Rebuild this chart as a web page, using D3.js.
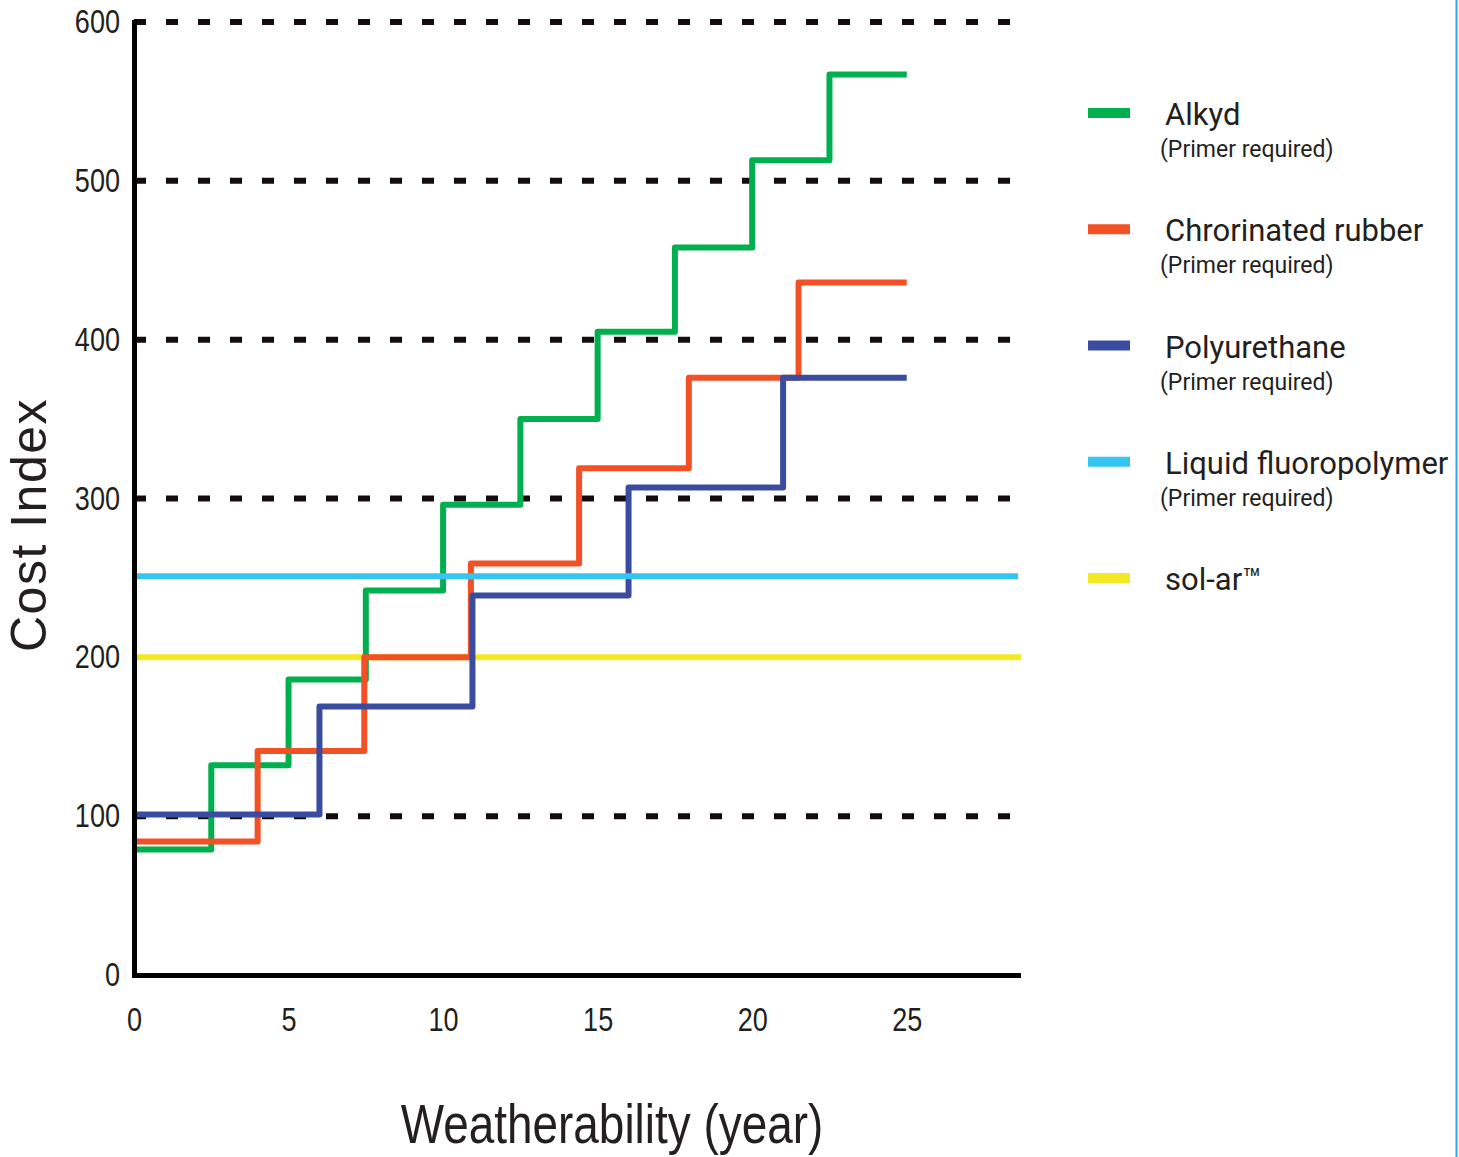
<!DOCTYPE html>
<html>
<head>
<meta charset="utf-8">
<script src="https://cdn.jsdelivr.net/npm/d3@7"></script>
<style>
  body { margin: 0; background: #fff; }
  .tick text { font-family: "Liberation Sans", Arial, sans-serif; fill: #231f20; }
  .legend text { font-family: Roboto, "Liberation Sans", sans-serif; fill: #231f20; }
</style>
</head>
<body>
<div id="chart"></div>
<script>
// step breaks (years) and cost levels
var alkydYears = [0, 2.5, 5, 7.5, 10, 12.5, 15, 17.5, 20, 22.5];
var alkydCost  = [79, 132, 186, 242, 296, 350, 405, 458, 513, 567];

var rubberYears = [0, 4, 7.45, 10.9, 14.4, 17.95, 21.5];
var rubberCost  = [84, 141, 200, 259, 319, 376, 436];

var urethaneYears = [0, 6, 10.95, 16, 21];
var urethaneCost  = [101, 169, 239, 307, 376];

var fluoroCost = 251;
var solarCost = 200;

var stepEnd = 25;
var flatEnd = 28.6;

var xTicks = [0, 5, 10, 15, 20, 25];
var yTicks = [0, 100, 200, 300, 400, 500, 600];
var gridTicks = [100, 300, 400, 500, 600];

var names = ["Alkyd", "Chrorinated rubber", "Polyurethane", "Liquid fluoropolymer", "sol-ar\u2122"];
var notes = ["(Primer required)", "(Primer required)", "(Primer required)", "(Primer required)", ""];
var colors = ["#00b04f", "#f15125", "#394ca0", "#36c5f1", "#f2e824"];

var W = 1459, H = 1157;
var narrow = 0.82; // the original type is a condensed grotesque

var svg = d3.select("#chart").append("svg")
    .attr("width", W)
    .attr("height", H);

var x = d3.scaleLinear().domain([0, flatEnd]).range([134, 1018]);
var y = d3.scaleLinear().domain([0, 600]).range([975, 22]);

// dashed grid
svg.append("g").selectAll("line")
    .data(gridTicks)
  .enter().append("line")
    .attr("x1", x(0))
    .attr("x2", x(28.35))
    .attr("y1", function(d){ return y(d); })
    .attr("y2", function(d){ return y(d); })
    .attr("stroke", "#140c0c")
    .attr("stroke-width", 6)
    .attr("stroke-dasharray", "12 20");

function steps(years, cost, end){
  var pts = years.map(function(d, i){ return [d, cost[i]]; });
  pts.push([end, cost[cost.length - 1]]);
  return pts;
}

var line = d3.line()
    .x(function(d){ return x(d[0]); })
    .y(function(d){ return y(d[1]); })
    .curve(d3.curveStepAfter);

// yellow sits under the steps, cyan over them
var series = [
  {pts: [[0, solarCost], [28.7, solarCost]], color: colors[4]},
  {pts: steps(alkydYears, alkydCost, stepEnd), color: colors[0]},
  {pts: steps(rubberYears, rubberCost, stepEnd), color: colors[1]},
  {pts: steps(urethaneYears, urethaneCost, stepEnd), color: colors[2]},
  {pts: [[0, fluoroCost], [flatEnd, fluoroCost]], color: colors[3]}
];

svg.append("g").selectAll("path")
    .data(series)
  .enter().append("path")
    .attr("d", function(d){ return line(d.pts); })
    .attr("fill", "none")
    .attr("stroke", function(d){ return d.color; })
    .attr("stroke-width", 6)
    .attr("stroke-linejoin", "round");

// axes
var xAxis = svg.append("g")
    .attr("transform", "translate(0," + y(0) + ")")
    .call(d3.axisBottom(x).tickValues(xTicks).tickSize(0).tickPadding(33));

var yAxis = svg.append("g")
    .attr("transform", "translate(" + x(0) + ",0)")
    .call(d3.axisLeft(y).tickValues(yTicks).tickSize(0).tickPadding(14));

[xAxis, yAxis].forEach(function(g){
  g.select(".domain")
      .attr("stroke", "#000")
      .attr("stroke-width", 5)
      .attr("stroke-linecap", "square");
  g.selectAll(".tick text")
      .style("font-size", "33px")
      .attr("transform", "scale(" + narrow + ",1)");
});
// keep the right edge of the y labels where it was before squeezing
yAxis.selectAll(".tick text").attr("x", -14 / narrow);

svg.append("g")
    .attr("transform", "translate(" + ((x(0) + x(flatEnd)) / 2 + 36) + ",1143) scale(" + narrow + ",1)")
  .append("text")
    .attr("text-anchor", "middle")
    .style("font-family", "'Liberation Sans', Arial, sans-serif")
    .style("font-size", "56px")
    .style("fill", "#231f20")
    .text("Weatherability (year)");

svg.append("text")
    .attr("transform", "translate(46," + 525 + ") rotate(-90)")
    .attr("text-anchor", "middle")
    .style("font-family", "'Liberation Sans', Arial, sans-serif")
    .style("font-size", "50px")
    .style("letter-spacing", "1.5px")
    .style("fill", "#231f20")
    .text("Cost Index");

// legend
var ly = d3.scaleLinear().domain([0, 4]).range([113, 578]);

var item = svg.append("g").attr("class", "legend")
    .selectAll("g")
    .data(names)
  .enter().append("g")
    .attr("transform", function(d, i){ return "translate(1088," + ly(i) + ")"; });

item.append("rect")
    .attr("x", 0)
    .attr("y", -5)
    .attr("width", 42)
    .attr("height", 10)
    .attr("fill", function(d, i){ return colors[i]; });

item.append("text")
    .attr("x", 77)
    .attr("y", 12)
    .style("font-size", "31px")
    .text(function(d){ return d; });

item.append("text")
    .attr("x", 72)
    .attr("y", 44)
    .style("font-size", "23px")
    .text(function(d, i){ return notes[i]; });

// thin cyan page edge on the right
svg.append("line")
    .attr("x1", 1456.5).attr("x2", 1456.5)
    .attr("y1", 0).attr("y2", H)
    .attr("stroke", "#29a9dc")
    .attr("stroke-width", 2);
</script>
</body>
</html>
